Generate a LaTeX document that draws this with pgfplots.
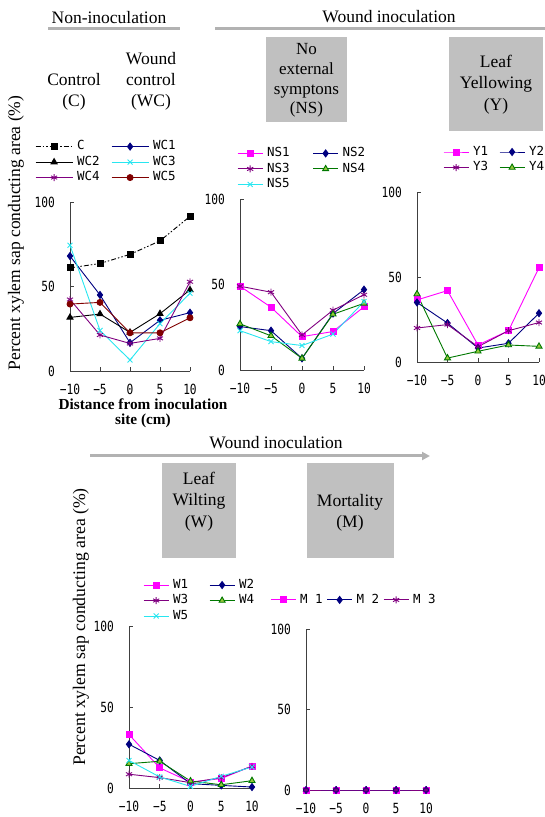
\documentclass[border=0pt]{standalone}
\usepackage{pgfplots}
\pgfplotsset{compat=1.18}
\usepackage{fontspec}
\usetikzlibrary{arrows.meta}
\setmainfont{Liberation Serif}
\newfontfamily\monofont{DejaVu Sans Mono}
\newfontfamily\tickfont[FakeStretch=0.8]{DejaVu Sans Mono}
\newcommand\tickf{\tickfont\fontsize{14}{14}\selectfont}
\newcommand\legf{\monofont\fontsize{12.5}{13}\selectfont}
\newcommand\headf{\fontsize{17.5}{21}\selectfont}

\definecolor{cnavy}{RGB}{0,0,128}
\definecolor{cpurple}{RGB}{128,0,128}
\definecolor{cmag}{RGB}{255,0,255}
\definecolor{ccyan}{RGB}{40,230,240}
\definecolor{cdred}{RGB}{128,0,0}
\definecolor{cgreen}{RGB}{0,120,0}
\definecolor{cygreen}{RGB}{150,200,60}
\definecolor{boxgray}{RGB}{192,192,192}
\definecolor{linegray}{RGB}{178,178,178}

\pgfplotsset{
  panel/.style={
    scale only axis, axis lines*=left,
    xmin=-10, xmax=10, ymin=0, ymax=100,
    xtick={-10,-5,0,5,10}, xticklabels={−10,−5,0,5,10},
    ytick={0,50,100}, yticklabels={0,50,100},
    tick align=inside, major tick length=4pt,
    every tick/.style={black!75, line width=0.8pt},
    axis line style={black!75, line width=0.8pt},
    tick label style={font=\tickf},
    xticklabel style={anchor=north, inner sep=0pt, yshift=-13pt},
    yticklabel style={anchor=east, inner sep=0pt, xshift=-15pt},
    clip=false, anchor=south west,
    legend cell align=left,
    legend style={draw=none, fill=none, inner sep=0pt, font=\legf,
      anchor=north west, row sep=0pt,
      nodes={inner xsep=4pt, inner ysep=2pt, text height=9pt, text depth=2.5pt}},
    every axis plot/.append style={line width=0.9pt},
  },
  legL/.style={legend image code/.code={\draw[mark repeat=2,mark phase=2,##1]
      plot coordinates {(0pt,0pt) (18.5pt,0pt) (37pt,0pt)};}},
  legS/.style={legend image code/.code={\draw[mark repeat=2,mark phase=2,##1]
      plot coordinates {(0pt,0pt) (12.5pt,0pt) (25pt,0pt)};}},
  sC/.style={black, dash pattern=on 5pt off 2pt on 1.5pt off 2pt on 1.5pt off 2pt,
      mark=square*, mark size=3pt, mark options={solid}},
  sNavy/.style={cnavy, mark=diamond*, mark size=3.5pt},
  sBlack/.style={black, mark=triangle*, mark size=3.5pt},
  sCyan/.style={ccyan, mark=x, mark size=3.5pt},
  sPurple/.style={cpurple, mark=asterisk, mark size=3.5pt},
  sRed/.style={cdred, mark=*, mark size=3pt},
  sMag/.style={cmag, mark=square*, mark size=3pt},
  sGreen/.style={cgreen, mark=triangle*, mark size=3.5pt, mark options={fill=cygreen, draw=cgreen}},
}

\begin{document}
\begin{tikzpicture}[x=1pt,y=1pt]
\path[use as bounding box] (0,0) rectangle (545,817);

% headers
\node[font=\headf] at (109,799) {Non-inoculation};
\draw[linegray, line width=3pt] (48,788) -- (180,788);
\node[font=\headf] at (389,800) {Wound inoculation};
\draw[linegray, line width=3pt] (215,788) -- (545,788);
\node[font=\headf, align=center] at (74,725.5) {Control\\(C)};
\node[font=\headf, align=center] at (151,736) {Wound\\control\\(WC)};
\fill[boxgray] (266,780) rectangle (347,695);
\node[font=\fontsize{17}{19.7}\selectfont, align=center] at (306.5,736.5) {No\\external\\symptons\\(NS)};
\fill[boxgray] (449,780) rectangle (543,686);
\node[font=\fontsize{17.5}{21.5}\selectfont, align=center] at (496,732.5) {Leaf\\Yellowing\\(Y)};
\node[font=\headf, rotate=90] at (16,584) {Percent xylem sap conducting area (\%)};
\node[font=\fontsize{15.3}{15}\selectfont\bfseries, align=center] at (143,404) {Distance from inoculation\\site (cm)};

\node[font=\headf] at (276,374) {Wound inoculation};
\draw[linegray, line width=3pt, -{Triangle[length=8pt,width=8pt]}] (90,361) -- (430,361);
\fill[boxgray] (162,354) rectangle (236,259);
\node[font=\fontsize{17.5}{21.5}\selectfont, align=center] at (199,315.5) {Leaf\\Wilting\\(W)};
\fill[boxgray] (307,354) rectangle (394,259);
\node[font=\fontsize{17.5}{21}\selectfont, align=center] at (350,304.5) {Mortality\\(M)};
\node[font=\fontsize{17.7}{21}\selectfont, rotate=90] at (81,190) {Percent xylem sap conducting area (\%)};

% Control / wound control
\begin{axis}[panel, legL, at={(70pt,446pt)}, width=120pt, height=169pt,
  legend columns=2,
  legend style={at={(axis description cs:-0.292,1.375)},
    /tikz/every even column/.append style={column sep=7.5pt}}]
\addplot[sC] coordinates {(-10,61) (-5,63.6) (0,69) (5,77) (10,91.5)};
\addlegendentry{C}
\addplot[sNavy] coordinates {(-10,68) (-5,45) (0,16.7) (5,30) (10,34.5)};
\addlegendentry{WC1}
\addplot[sBlack] coordinates {(-10,31.7) (-5,33.7) (0,22.8) (5,33.9) (10,48)};
\addlegendentry{WC2}
\addplot[sCyan] coordinates {(-10,74.4) (-5,24) (0,6.5) (5,28) (10,46)};
\addlegendentry{WC3}
\addplot[sPurple] coordinates {(-10,42.3) (-5,21.3) (0,16.3) (5,19.3) (10,52.8)};
\addlegendentry{WC4}
\addplot[sRed] coordinates {(-10,39.6) (-5,40.6) (0,22.6) (5,22.6) (10,31.5)};
\addlegendentry{WC5}
\end{axis}

% No external symptoms
\begin{axis}[panel, legS, at={(240pt,447pt)}, width=124pt, height=171pt,
  legend columns=2,
  legend style={at={(axis description cs:-0.024,1.313)},
    /tikz/every even column/.append style={column sep=19pt}}]
\addplot[sMag] coordinates {(-10,49) (-5,36.7) (0,19.5) (5,22.5) (10,37)};
\addlegendentry{NS1}
\addplot[sNavy] coordinates {(-10,25.4) (-5,23) (0,6.8) (5,33) (10,47)};
\addlegendentry{NS2}
\addplot[sPurple] coordinates {(-10,49) (-5,45.5) (0,20.5) (5,35) (10,44)};
\addlegendentry{NS3}
\addplot[sGreen] coordinates {(-10,27) (-5,20) (0,6.8) (5,32.6) (10,39)};
\addlegendentry{NS4}
\addplot[sCyan] coordinates {(-10,23) (-5,16.6) (0,14.3) (5,21) (10,40)};
\addlegendentry{NS5}
\end{axis}

% Leaf yellowing
\begin{axis}[panel, legS, at={(417pt,455pt)}, width=122pt, height=170pt,
  legend columns=2,
  legend style={at={(axis description cs:0.213,1.282)},
    /tikz/every even column/.append style={column sep=7pt}}]
\addplot[sMag] coordinates {(-10,36.5) (-5,42) (0,10) (5,18.4) (10,55.5)};
\addlegendentry{Y1}
\addplot[sNavy] coordinates {(-10,35) (-5,22.9) (0,8.2) (5,11) (10,28.7)};
\addlegendentry{Y2}
\addplot[sPurple] coordinates {(-10,20) (-5,22) (0,9) (5,18.4) (10,23.2)};
\addlegendentry{Y3}
\addplot[sGreen] coordinates {(-10,40) (-5,2.3) (0,6.3) (5,10) (10,9.2)};
\addlegendentry{Y4}
\end{axis}

% Leaf wilting
\begin{axis}[panel, legS, at={(129pt,29pt)}, width=123pt, height=162pt,
  legend columns=2,
  legend style={at={(axis description cs:0.114,1.302)},
    /tikz/every even column/.append style={column sep=17pt}}]
\addplot[sMag] coordinates {(-10,33) (-5,12.4) (0,3.7) (5,5.8) (10,13.6)};
\addlegendentry{W1}
\addplot[sNavy] coordinates {(-10,27) (-5,17) (0,2.7) (5,1.6) (10,0.6)};
\addlegendentry{W2}
\addplot[sPurple] coordinates {(-10,8.5) (-5,6.4) (0,3.3) (5,6.4) (10,13.4)};
\addlegendentry{W3}
\addplot[sGreen] coordinates {(-10,15) (-5,16.5) (0,4.3) (5,2) (10,4.5)};
\addlegendentry{W4}
\addplot[sCyan] coordinates {(-10,17) (-5,6.8) (0,1) (5,7.2) (10,13)};
\addlegendentry{W5}
\end{axis}

% Mortality
\begin{axis}[panel, legS, at={(306pt,27pt)}, width=120pt, height=161pt,
  legend columns=3,
  legend style={at={(axis description cs:-0.3,1.23)},
    /tikz/every even column/.append style={column sep=0pt}}]
\addplot[sMag] coordinates {(-10,0) (-5,0) (0,0) (5,0) (10,0)};
\addlegendentry{M 1}
\addplot[sNavy] coordinates {(-10,0) (-5,0) (0,0) (5,0) (10,0)};
\addlegendentry{M 2}
\addplot[sPurple] coordinates {(-10,0) (-5,0) (0,0) (5,0) (10,0)};
\addlegendentry{M 3}
\end{axis}
\end{tikzpicture}
\end{document}
